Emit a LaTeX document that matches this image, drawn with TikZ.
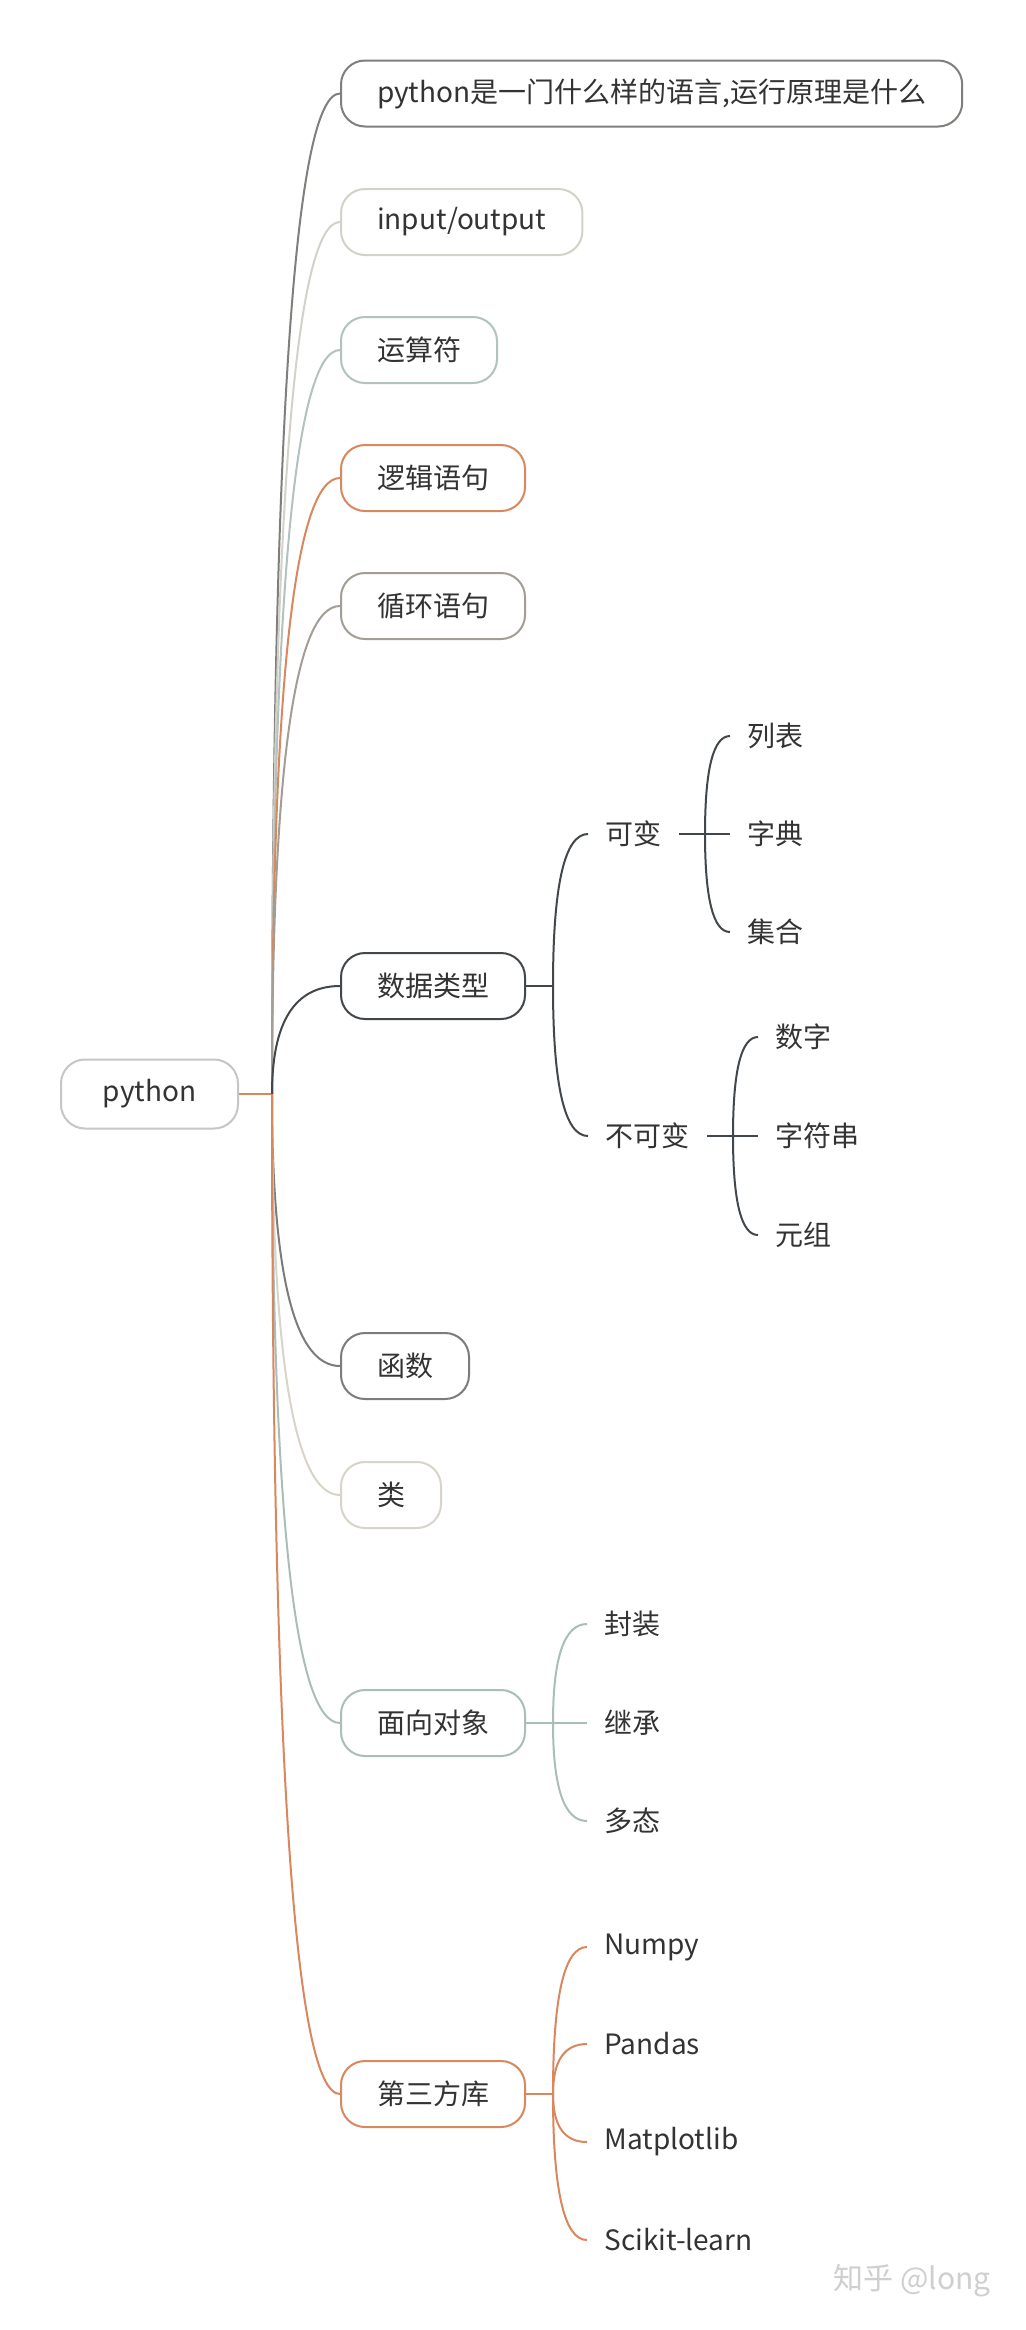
\documentclass[tikz,border=0pt]{standalone}
\usepackage{fontspec}
\newfontfamily\cjk{Noto Sans CJK SC}
\usetikzlibrary{calc}
\definecolor{txt}{HTML}{333333}
\definecolor{croot}{HTML}{C6C6C6}
\definecolor{ca}{HTML}{807F7B}
\definecolor{cb}{HTML}{D3D2C9}
\definecolor{cc}{HTML}{B2C3BF}
\definecolor{cd}{HTML}{D8875E}
\definecolor{ce}{HTML}{A29E95}
\definecolor{cf}{HTML}{41474B}
\definecolor{cg}{HTML}{7C7C7C}
\definecolor{ch}{HTML}{D8D4C8}
\definecolor{ci}{HTML}{ABBDB9}
\definecolor{cj}{HTML}{D8875E}
\definecolor{wmc}{HTML}{CFCFCF}
\newcommand\mmlink[3]{\draw[link,#1] (#2) .. controls ($(#2)!0.6667!(#2|-#3)$) and ($(#3)!0.6667!(#2|-#3)$) .. (#3);}
\begin{document}
\begin{tikzpicture}[x=0.5pt,y=-0.5pt,
  tfont/.style={font=\cjk\fontsize{14pt}{17pt}\selectfont, text=txt},
  box/.style={tfont, draw, line width=1pt, fill=white, rounded corners=12pt,
    minimum height=33pt, inner xsep=18pt, inner ysep=0pt, anchor=west},
  rootbox/.style={tfont, draw=croot, line width=1pt, fill=white, rounded corners=12pt,
    minimum height=34.5pt, minimum width=88.5pt, inner ysep=0pt},
  leaf/.style={tfont, inner xsep=8.5pt, inner ysep=0pt, anchor=west},
  link/.style={line width=1pt}]
\fill[white] (0,0) rectangle (1026,2330);
\useasboundingbox (0,0) rectangle (1026,2330);
% root
\node[rootbox] (py) at (149.5,1094) {python};
\coordinate (tr) at (272,1094);
% level 1
\node[box, draw=ca] (n1) at (340,93.5) {python是一门什么样的语言,运行原理是什么};
\node[box, draw=cb] (n2) at (340,222) {input/output};
\node[box, draw=cc] (n3) at (340,350) {运算符};
\node[box, draw=cd] (n4) at (340,478) {逻辑语句};
\node[box, draw=ce] (n5) at (340,606) {循环语句};
\node[box, draw=cf] (n6) at (340,986) {数据类型};
\node[box, draw=cg] (n7) at (340,1366) {函数};
\node[box, draw=ch] (n8) at (340,1495) {类};
\node[box, draw=ci] (n9) at (340,1723) {面向对象};
\node[box, draw=cj] (n10) at (340,2094) {第三方库};
\draw[link, draw=cj] (py.east) -- (tr);
\mmlink{draw=ca}{tr}{n1.west}
\mmlink{draw=cb}{tr}{n2.west}
\mmlink{draw=cc}{tr}{n3.west}
\mmlink{draw=cd}{tr}{n4.west}
\mmlink{draw=ce}{tr}{n5.west}
\mmlink{draw=cf}{tr}{n6.west}
\mmlink{draw=cg}{tr}{n7.west}
\mmlink{draw=ch}{tr}{n8.west}
\mmlink{draw=ci}{tr}{n9.west}
\mmlink{draw=cj}{tr}{n10.west}
% 数据类型
\coordinate (b6) at (553,986);
\node[leaf] (kb) at (588,834) {可变};
\node[leaf] (bkb) at (588,1136) {不可变};
\draw[link, draw=cf] (n6.east) -- (b6);
\mmlink{draw=cf}{b6}{kb.west}
\mmlink{draw=cf}{b6}{bkb.west}
\coordinate (bk) at (705,834);
\node[leaf] (lb) at (730,736) {列表};
\node[leaf] (zd) at (730,834) {字典};
\node[leaf] (jh) at (730,932) {集合};
\draw[link, draw=cf] (kb.east) -- (bk);
\mmlink{draw=cf}{bk}{lb.west}
\draw[link, draw=cf] (bk) -- (zd.west);
\mmlink{draw=cf}{bk}{jh.west}
\coordinate (bbk) at (733,1136);
\node[leaf] (sz) at (758,1037) {数字};
\node[leaf] (zfc) at (758,1136) {字符串};
\node[leaf] (yz) at (758,1235) {元组};
\draw[link, draw=cf] (bkb.east) -- (bbk);
\mmlink{draw=cf}{bbk}{sz.west}
\draw[link, draw=cf] (bbk) -- (zfc.west);
\mmlink{draw=cf}{bbk}{yz.west}
% 面向对象
\coordinate (b9) at (553,1723);
\node[leaf] (fz) at (587,1624) {封装};
\node[leaf] (jc) at (587,1723) {继承};
\node[leaf] (dt) at (587,1821) {多态};
\draw[link, draw=ci] (n9.east) -- (b9);
\mmlink{draw=ci}{b9}{fz.west}
\draw[link, draw=ci] (b9) -- (jc.west);
\mmlink{draw=ci}{b9}{dt.west}
% 第三方库
\coordinate (b10) at (553,2094);
\node[leaf] (np) at (587,1947) {Numpy};
\node[leaf] (pd) at (587,2044) {Pandas};
\node[leaf] (mp) at (587,2142) {Matplotlib};
\node[leaf] (sk) at (587,2240) {Scikit-learn};
\draw[link, draw=cj] (n10.east) -- (b10);
\mmlink{draw=cj}{b10}{np.west}
\mmlink{draw=cj}{b10}{pd.west}
\mmlink{draw=cj}{b10}{mp.west}
\mmlink{draw=cj}{b10}{sk.west}
% watermark
\node[anchor=west, inner sep=0pt, text=wmc, font=\cjk\fontsize{15pt}{18pt}\selectfont] (wm) at (833,2281) {知乎 @long};
\end{tikzpicture}
\end{document}
